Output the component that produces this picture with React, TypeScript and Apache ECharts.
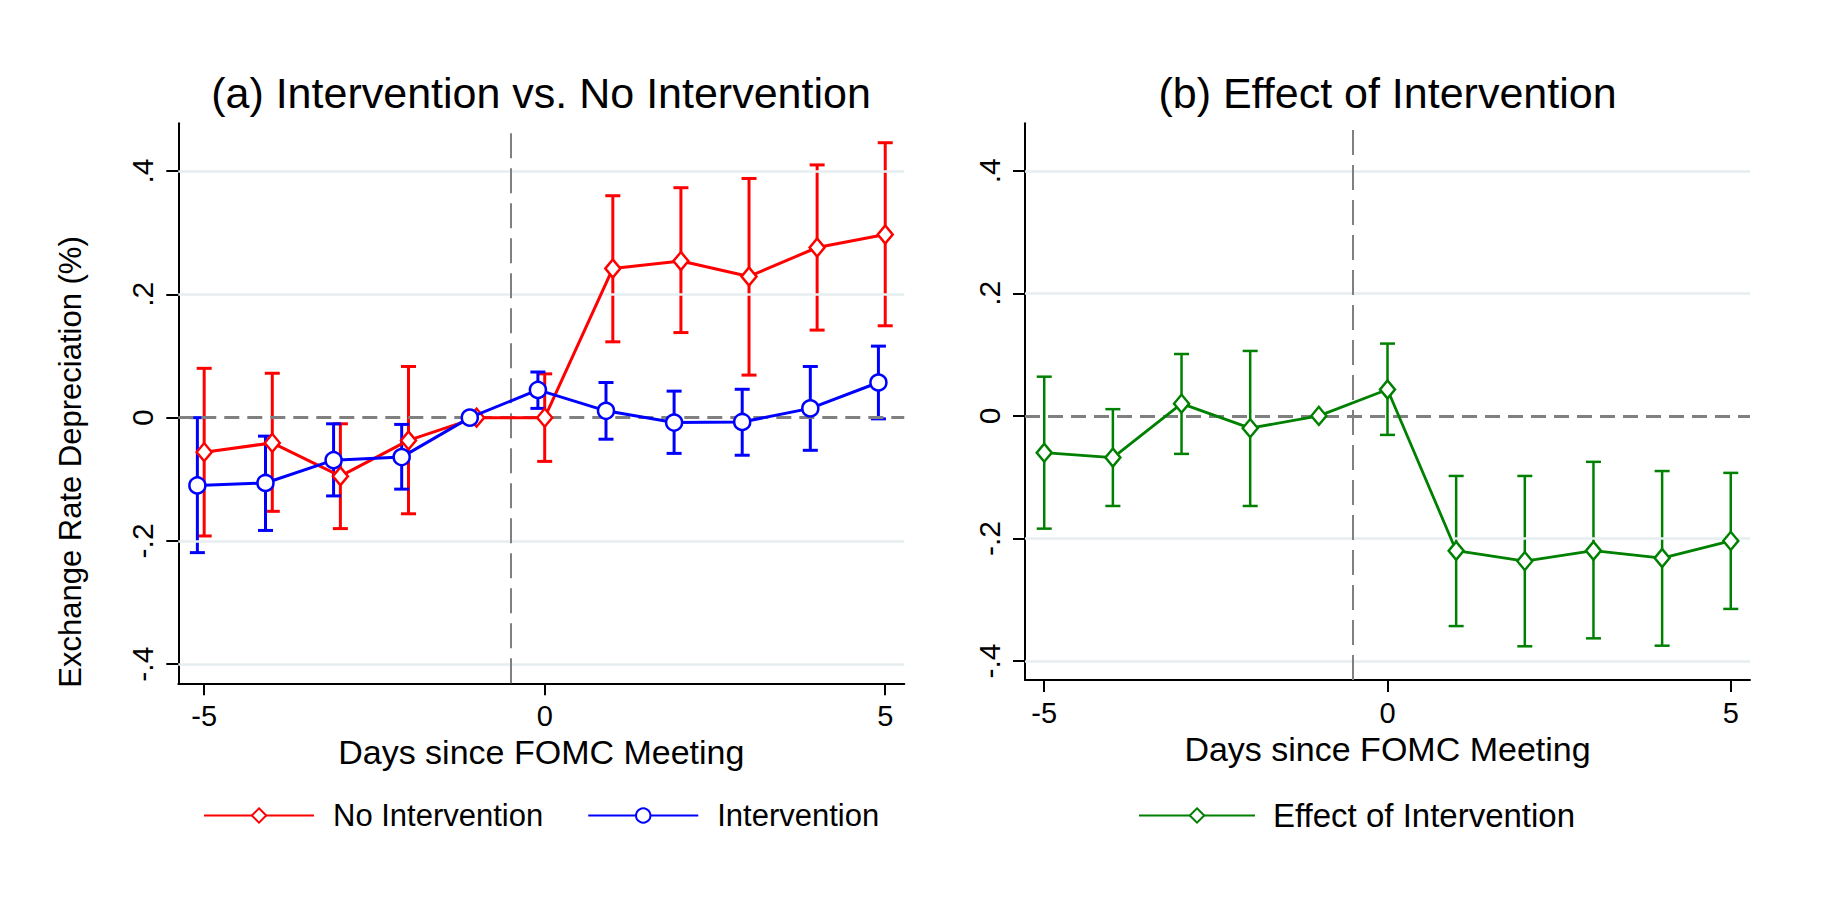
import React, { useEffect, useRef } from 'react';
import * as echarts from 'echarts';

// Event-study estimates: exchange rate depreciation (%) around FOMC meetings
const days = [-5, -4, -3, -2, -1, 0, 1, 2, 3, 4, 5];
// Intervention estimates are plotted slightly left of each day so the two series do not overlap
const interventionDays = [-5.1, -4.1, -3.1, -2.1, -1.1, -0.1, 0.9, 1.9, 2.9, 3.9, 4.9];

const noIntervention = [-0.056, -0.041, -0.095, -0.037, 0, 0, 0.242, 0.254, 0.229, 0.276, 0.297];
const noInterventionLow = [-0.192, -0.152, -0.180, -0.156, null, -0.071, 0.123, 0.138, 0.069, 0.142, 0.149];
const noInterventionHigh = [0.080, 0.072, -0.010, 0.083, null, 0.071, 0.360, 0.373, 0.388, 0.410, 0.446];

const intervention = [-0.110, -0.106, -0.069, -0.064, 0, 0.045, 0.011, -0.008, -0.007, 0.015, 0.057];
const interventionLow = [-0.219, -0.183, -0.127, -0.116, null, 0.015, -0.035, -0.058, -0.061, -0.053, -0.002];
const interventionHigh = [0.000, -0.030, -0.010, -0.011, null, 0.074, 0.057, 0.043, 0.046, 0.083, 0.116];

const effect = [-0.060, -0.068, 0.020, -0.020, 0, 0.043, -0.220, -0.237, -0.220, -0.232, -0.204];
const effectLow = [-0.184, -0.147, -0.062, -0.147, null, -0.031, -0.343, -0.376, -0.363, -0.375, -0.315];
const effectHigh = [0.064, 0.011, 0.101, 0.106, null, 0.118, -0.098, -0.098, -0.075, -0.090, -0.093];

const xTicks = [-5, 0, 5];
const yTicks = [-0.4, -0.2, 0, 0.2, 0.4];
const yTickLabels = ['-.4', '-.2', '0', '.2', '.4'];
const gridValues = [-0.4, -0.2, 0.2, 0.4];

const RED = '#ff0000';
const BLUE = '#0000ff';
const GREEN = '#008000';
const GRID = '#e6eef0';
const REF = '#808080';
const FONT = "'Liberation Sans', Arial, Helvetica, sans-serif";

const points = (xs: number[], ys: number[]) => xs.map((x, i) => [x, ys[i]]);

const intervals = (xs: number[], lo: (number | null)[], hi: (number | null)[]) => {
  const out: number[][] = [];
  xs.forEach((x, i) => {
    if (lo[i] != null && hi[i] != null) out.push([x, lo[i] as number, hi[i] as number]);
  });
  return out;
};

const yLabel = (v: number) => {
  let best = 0;
  yTicks.forEach((t, i) => {
    if (Math.abs(t - v) < Math.abs(yTicks[best] - v)) best = i;
  });
  return yTickLabels[best];
};

function errorBars(name: string, axis: number, color: string, data: number[][], width: number) {
  return {
    type: 'custom',
    name,
    xAxisIndex: axis,
    yAxisIndex: axis,
    data,
    silent: true,
    z: 3,
    encode: { x: 0, y: [1, 2] },
    renderItem: (_params: any, api: any) => {
      const x = api.value(0);
      const lo = api.coord([x, api.value(1)]);
      const hi = api.coord([x, api.value(2)]);
      const half = 7.5;
      const style = { stroke: color, lineWidth: width, fill: 'none' };
      return {
        type: 'group',
        children: [
          { type: 'line', shape: { x1: lo[0], y1: lo[1], x2: hi[0], y2: hi[1] }, style },
          { type: 'line', shape: { x1: lo[0] - half, y1: lo[1], x2: lo[0] + half, y2: lo[1] }, style },
          { type: 'line', shape: { x1: hi[0] - half, y1: hi[1], x2: hi[0] + half, y2: hi[1] }, style },
        ],
      };
    },
  };
}

function referenceLines(axis: number) {
  return {
    type: 'line',
    name: 'reference' + axis,
    xAxisIndex: axis,
    yAxisIndex: axis,
    data: [[0, 0]],
    symbol: 'none',
    lineStyle: { opacity: 0 },
    silent: true,
    z: 1,
    markLine: {
      silent: true,
      symbol: ['none', 'none'],
      label: { show: false },
      emphasis: { disabled: true },
      data: [
        ...gridValues.map((v) => ({ yAxis: v, lineStyle: { color: GRID, width: 2.5, type: 'solid' } })),
        { yAxis: 0, lineStyle: { color: REF, width: 3, type: [15, 8] } },
        { xAxis: -0.5, lineStyle: { color: REF, width: 2, type: [25, 10] } },
      ],
    },
  };
}

function xAxisFor(grid: number) {
  return {
    gridIndex: grid,
    type: 'value',
    min: grid === 0 ? -5.38 : -5.28,
    max: 5.28,
    axisLine: { show: true, onZero: false, lineStyle: { color: '#000', width: 2 } },
    axisTick: { show: true, customValues: xTicks, length: 12, lineStyle: { color: '#000', width: 2 } },
    axisLabel: { customValues: xTicks, fontSize: 29, color: '#000', margin: 18, fontFamily: FONT },
    splitLine: { show: false },
    name: 'Days since FOMC Meeting',
    nameLocation: 'middle',
    nameGap: 43,
    nameTextStyle: { fontSize: 34, color: '#000', fontFamily: FONT },
  };
}

function yAxisFor(grid: number) {
  return {
    gridIndex: grid,
    type: 'value',
    min: -0.431,
    max: 0.4775,
    axisLine: { show: true, onZero: false, lineStyle: { color: '#000', width: 2 } },
    axisTick: { show: true, customValues: yTicks, length: 12, lineStyle: { color: '#000', width: 2 } },
    axisLabel: {
      customValues: yTicks,
      rotate: 90,
      formatter: (v: number) => yLabel(v),
      fontSize: 30,
      color: '#000',
      margin: 21,
      fontFamily: FONT,
    },
    splitLine: { show: false },
  };
}

export default function App() {
  const ref = useRef<HTMLDivElement>(null);

  useEffect(() => {
    if (!ref.current) return;
    const chart = echarts.init(ref.current, undefined, { renderer: 'svg' });
    chart.setOption({
      animation: false,
      backgroundColor: '#ffffff',
      textStyle: { fontFamily: FONT },
      grid: [
        { left: 178.3, top: 123.3, width: 726, height: 560 },
        { left: 1025, top: 123.3, width: 725, height: 556.7 },
      ],
      xAxis: [xAxisFor(0), xAxisFor(1)],
      yAxis: [yAxisFor(0), yAxisFor(1)],
      legend: [
        {
          data: ['No Intervention', 'Intervention'],
          left: 198,
          top: 795,
          itemWidth: 110,
          itemHeight: 18,
          itemGap: 44,
          selectedMode: false,
          textStyle: { fontSize: 31, color: '#000', fontFamily: FONT, padding: [0, 0, 0, 14] },
        },
        {
          data: ['Effect of Intervention'],
          left: 1133,
          top: 794,
          itemWidth: 116,
          itemHeight: 18,
          selectedMode: false,
          textStyle: { fontSize: 33, color: '#000', fontFamily: FONT, padding: [0, 0, 0, 13] },
        },
      ],
      graphic: [
        {
          type: 'text',
          x: 541,
          y: 93,
          silent: true,
          style: {
            text: '(a) Intervention vs. No Intervention',
            fontSize: 43,
            fontFamily: FONT,
            fill: '#000',
            align: 'center',
            verticalAlign: 'middle',
          },
        },
        {
          type: 'text',
          x: 1387.5,
          y: 93,
          silent: true,
          style: {
            text: '(b) Effect of Intervention',
            fontSize: 43,
            fontFamily: FONT,
            fill: '#000',
            align: 'center',
            verticalAlign: 'middle',
          },
        },
        {
          type: 'text',
          x: 70,
          y: 462,
          rotation: Math.PI / 2,
          silent: true,
          style: {
            text: 'Exchange Rate Depreciation (%)',
            fontSize: 31,
            fontFamily: FONT,
            fill: '#000',
            align: 'center',
            verticalAlign: 'middle',
          },
        },
      ],
      series: [
        referenceLines(0),
        referenceLines(1),
        errorBars('No Intervention CI', 0, RED, intervals(days, noInterventionLow, noInterventionHigh), 3),
        {
          type: 'line',
          name: 'No Intervention',
          xAxisIndex: 0,
          yAxisIndex: 0,
          data: points(days, noIntervention),
          symbol: 'diamond',
          symbolSize: [15, 18],
          showAllSymbol: true,
          lineStyle: { color: RED, width: 3 },
          itemStyle: { color: '#fff', borderColor: RED, borderWidth: 2.5 },
          z: 5,
        },
        errorBars('Intervention CI', 0, BLUE, intervals(interventionDays, interventionLow, interventionHigh), 3),
        {
          type: 'line',
          name: 'Intervention',
          xAxisIndex: 0,
          yAxisIndex: 0,
          data: points(interventionDays, intervention),
          symbol: 'circle',
          symbolSize: 16,
          showAllSymbol: true,
          lineStyle: { color: BLUE, width: 3 },
          itemStyle: { color: '#fff', borderColor: BLUE, borderWidth: 2.5 },
          z: 6,
        },
        errorBars('Effect CI', 1, GREEN, intervals(days, effectLow, effectHigh), 2.5),
        {
          type: 'line',
          name: 'Effect of Intervention',
          xAxisIndex: 1,
          yAxisIndex: 1,
          data: points(days, effect),
          symbol: 'diamond',
          symbolSize: [15, 18],
          showAllSymbol: true,
          lineStyle: { color: GREEN, width: 2.8 },
          itemStyle: { color: '#fff', borderColor: GREEN, borderWidth: 2.5 },
          z: 5,
        },
      ],
    });
    return () => chart.dispose();
  }, []);

  return (
    <div
      ref={ref}
      style={{ position: 'absolute', left: 0, top: 0, width: 1830, height: 922, background: '#fff' }}
    />
  );
}
